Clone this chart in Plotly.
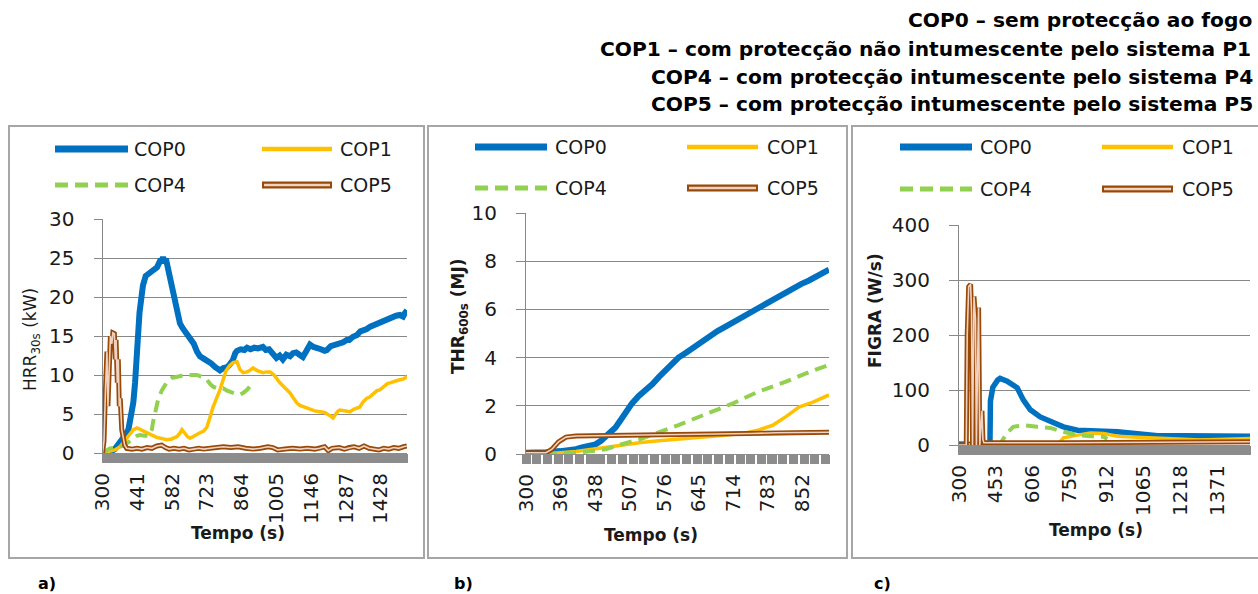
import plotly.graph_objects as go

W, H = 1258, 594


def fx(x):
    return x / W


def fy(y):
    return 1 - y / H


C0 = "#0070C0"
C1 = "#FFC000"
C4 = "#92D050"
C5 = "#984807"
C5_IN = "#F0D2C0"
GRID = "#888888"
BAND = "#8C8C8C"
FRAME = "#A6A6A6"
TXT = "#1A1A1A"

# ---------------- a) HRR30s (kW) ----------------
hrr_t_cop0 = [300, 330, 350, 371, 390, 405, 415, 425, 432, 438, 444, 450, 456, 464, 475, 492, 505, 521,
              533, 540, 545, 550, 557, 565, 574, 585, 594, 604, 614, 625, 640, 655, 670, 683, 695, 710,
              723, 740, 757, 776, 790, 805, 817, 828, 838, 845, 860, 875, 886, 900, 915, 930, 950, 962,
              975, 991, 1005, 1018, 1031, 1045, 1060, 1072, 1085, 1098, 1112, 1125, 1135, 1141, 1155,
              1170, 1185, 1200, 1209, 1225, 1240, 1262, 1275, 1290, 1300, 1315, 1330, 1345, 1360, 1371,
              1385, 1400, 1412, 1424, 1440, 1455, 1465, 1477, 1490, 1505, 1518, 1525, 1534]
hrr_cop0 = [0.1, 0.1, 0.5, 1.3, 2.2, 3.0, 4.5, 6.5, 9.0, 13.0, 16.0, 18.0, 19.5, 21.5, 22.7, 23.2, 23.5, 23.8,
            24.6, 24.6, 25.1, 24.6, 24.9, 23.8, 22.5, 20.6, 19.2, 17.6, 16.6, 16.0, 15.3, 14.8, 14.0, 13.0,
            12.4, 12.1, 11.9, 11.5, 11.0, 10.6, 10.9, 11.0, 11.4, 11.9, 12.8, 13.1, 13.3, 13.2, 13.5, 13.3,
            13.5, 13.4, 13.6, 13.2, 13.3, 12.8, 12.2, 12.5, 12.0, 12.6, 12.4, 12.8, 12.9, 12.6, 12.3, 13.0,
            13.6, 13.9, 13.6, 13.5, 13.3, 13.1, 13.2, 13.7, 13.8, 14.0, 14.2, 14.5, 14.5, 14.9, 15.1, 15.6,
            15.7, 15.9, 16.2, 16.4, 16.6, 16.8, 17.0, 17.2, 17.4, 17.4, 17.6, 17.7, 17.5, 17.9, 18.3]

hrr_t_cop1 = [300, 330, 350, 371, 390, 411, 425, 440, 455, 470, 480, 500, 520, 540, 561, 580, 602, 615, 622,
              632, 645, 655, 670, 685, 695, 710, 723, 735, 748, 762, 776, 790, 800, 815, 829, 845, 851, 857,
              870, 886, 898, 910, 925, 940, 950, 965, 979, 995, 1008, 1019, 1035, 1050, 1060, 1075, 1088,
              1100, 1115, 1129, 1145, 1160, 1181, 1200, 1215, 1222, 1234, 1245, 1255, 1262, 1275, 1290,
              1303, 1318, 1330, 1343, 1355, 1370, 1384, 1400, 1412, 1424, 1440, 1455, 1465, 1480, 1495,
              1505, 1520, 1534]
hrr_cop1 = [0.0, 0.2, 0.4, 0.8, 1.6, 2.5, 3.0, 3.2, 3.0, 2.8, 2.6, 2.3, 2.0, 1.8, 1.7, 1.8, 2.1, 2.6, 3.0,
            2.6, 2.1, 1.9, 2.2, 2.4, 2.6, 2.8, 3.3, 4.5, 5.9, 7.0, 8.1, 9.5, 10.5, 11.2, 11.6, 11.7, 11.3,
            10.7, 10.3, 10.4, 10.6, 10.9, 10.6, 10.4, 10.3, 10.4, 10.4, 10.0, 9.4, 9.0, 8.5, 8.1, 7.7, 7.0,
            6.4, 6.1, 5.9, 5.8, 5.6, 5.4, 5.3, 5.2, 4.9, 4.8, 4.5, 5.0, 5.4, 5.5, 5.4, 5.3, 5.3, 5.6, 5.8,
            5.9, 6.5, 7.0, 7.2, 7.7, 8.0, 8.1, 8.5, 8.9, 9.0, 9.2, 9.3, 9.4, 9.5, 9.8]

hrr_t_cop4 = [300, 315, 330, 355, 383, 405, 424, 440, 452, 470, 492, 500, 505, 515, 525, 540, 561, 580, 602,
              620, 643, 660, 683, 700, 723, 735, 748, 765, 789, 805, 829, 845, 857, 870, 886, 895, 906]
hrr_cop4 = [0.0, 0.3, 0.6, 0.7, 0.9, 1.4, 1.9, 2.2, 2.3, 2.2, 2.3, 3.0, 4.0, 5.4, 6.8, 8.0, 9.1, 9.6, 9.8,
            9.9, 10.0, 10.0, 10.0, 9.8, 9.4, 8.9, 8.5, 8.3, 8.3, 8.0, 7.7, 7.5, 7.5, 7.7, 8.1, 8.5, 8.9]

hrr_t_cop5 = [300, 306, 312, 318, 322, 327, 332, 338, 342, 348, 352, 355, 360, 364, 368, 372, 378, 384, 390,
              398, 420, 440, 460, 480, 500, 520, 540, 555, 570, 590, 610, 630, 650, 670, 690, 710, 730,
              760, 790, 820, 850, 880, 910, 940, 970, 990, 1010, 1040, 1070, 1100, 1130, 1160, 1180, 1200,
              1215, 1230, 1260, 1280, 1300, 1320, 1340, 1360, 1380, 1400, 1420, 1440, 1460, 1480, 1500,
              1520, 1534]
hrr_cop5 = [0.0, 1.5, 8.0, 13.0, 6.0, 12.0, 15.0, 14.0, 15.4, 15.3, 12.0, 14.5, 9.0, 12.0, 6.0, 7.0, 3.0,
            2.0, 1.0, 0.6, 0.5, 0.6, 0.5, 0.7, 0.6, 0.9, 1.0, 0.7, 0.5, 0.6, 0.5, 0.6, 0.4, 0.5, 0.6, 0.5,
            0.6, 0.7, 0.8, 0.7, 0.8, 0.6, 0.5, 0.6, 0.8, 0.7, 0.4, 0.5, 0.6, 0.5, 0.6, 0.5, 0.6, 0.8, 0.3,
            0.6, 0.7, 0.5, 0.7, 0.8, 0.6, 0.9, 0.6, 0.5, 0.4, 0.6, 0.5, 0.7, 0.6, 0.8, 0.9]

# ---------------- b) THR600s (MJ) ----------------
thr_t_cop0 = [300, 320, 340, 369, 384, 400, 412, 425, 439, 450, 459, 469, 479, 489, 499, 512, 525, 540, 553,
              566, 579, 592, 605, 620, 633, 650, 665, 683, 700, 717, 734, 750, 766, 783, 800, 817, 834, 850,
              866, 886, 906]
thr_cop0 = [0.05, 0.05, 0.07, 0.12, 0.15, 0.2, 0.27, 0.33, 0.4, 0.55, 0.7, 0.9, 1.1, 1.4, 1.75, 2.1, 2.4,
            2.65, 2.9, 3.2, 3.45, 3.75, 4.0, 4.2, 4.4, 4.65, 4.9, 5.1, 5.3, 5.5, 5.7, 5.9, 6.1, 6.3, 6.5,
            6.7, 6.85, 7.05, 7.2, 7.4, 7.65]

thr_t_cop1 = [300, 350, 400, 432, 470, 499, 530, 565, 600, 633, 680, 734, 766, 794, 820, 846, 874, 906]
thr_cop1 = [0.0, 0.02, 0.1, 0.2, 0.3, 0.4, 0.48, 0.55, 0.62, 0.68, 0.75, 0.85, 1.0, 1.2, 1.55, 1.95, 2.15,
            2.45]

thr_t_cop4 = [300, 380, 400, 432, 459, 499, 533, 565, 605, 665, 714, 766, 820, 866, 906]
thr_cop4 = [0.0, 0.02, 0.05, 0.12, 0.2, 0.45, 0.65, 0.9, 1.2, 1.7, 2.1, 2.6, 3.0, 3.4, 3.7]

thr_t_cop5 = [300, 340, 352, 365, 380, 400, 500, 600, 700, 750, 800, 850, 906]
thr_cop5 = [0.05, 0.05, 0.2, 0.5, 0.7, 0.75, 0.78, 0.8, 0.82, 0.85, 0.88, 0.9, 0.9]

# ---------------- c) FIGRA (W/s) ----------------
fig_t_cop0 = [300, 425, 428, 430, 440, 460, 470, 499, 520, 541, 566, 595, 636, 678, 732, 790, 873, 900, 956,
              1039, 1122, 1230, 1371, 1504]
fig_cop0 = [2, 2, 0, 80, 105, 118, 121, 116, 110, 104, 82, 64, 51, 42, 33, 27, 27, 25, 24, 20, 17, 17, 17,
            16]

fig_t_cop1 = [300, 700, 719, 732, 790, 844, 898, 956, 1039, 1163, 1300, 1437, 1504]
fig_cop1 = [0, 0, 6, 13, 18, 22, 21, 16, 14, 11, 9, 11, 12]

fig_t_cop4 = [300, 460, 470, 485, 499, 524, 566, 624, 678, 732, 790, 844, 898, 914]
fig_cop4 = [0, 0, 2, 12, 22, 33, 36, 33, 31, 24, 18, 16, 15, 11]

fig_t_cop5 = [300, 330, 334, 340, 348, 352, 356, 362, 368, 372, 376, 381, 386, 391, 395, 399, 403, 730, 1504]
fig_cop5 = [0, 0, 200, 288, 292, 240, 0, 270, 230, 0, 120, 250, 0, 30, 62, 10, 4, 4, 6]

# tick labels of the category axes
ticks_a = [300, 441, 582, 723, 864, 1005, 1146, 1287, 1428]
ticks_b = [300, 369, 438, 507, 576, 645, 714, 783, 852]
ticks_c = [300, 453, 606, 759, 912, 1065, 1218, 1371]

header_lines = [
    "COP0 – sem protecção ao fogo",
    "COP1 – com protecção não intumescente pelo sistema P1",
    "COP4 – com protecção intumescente pelo sistema P4",
    "COP5 – com protecção intumescente pelo sistema P5",
]

FONT = "DejaVu Sans"

fig = go.Figure()


def add_series(ax, t0, v0, t1, v1, t4, v4, t5, v5, w0=6):
    xa, ya = ("x", "y") if ax == 1 else (f"x{ax}", f"y{ax}")
    common = dict(mode="lines", xaxis=xa, yaxis=ya, showlegend=False, hoverinfo="skip")
    fig.add_trace(go.Scatter(x=t0, y=v0, line=dict(color=C0, width=w0), **common))
    fig.add_trace(go.Scatter(x=t1, y=v1, line=dict(color=C1, width=3.5), **common))
    fig.add_trace(go.Scatter(x=t4, y=v4, line=dict(color=C4, width=4, dash="12px,7px"), **common))
    fig.add_trace(go.Scatter(x=t5, y=v5, line=dict(color=C5, width=5), **common))
    fig.add_trace(go.Scatter(x=t5, y=v5, line=dict(color=C5_IN, width=1.6), **common))


add_series(1, hrr_t_cop0, hrr_cop0, hrr_t_cop1, hrr_cop1, hrr_t_cop4, hrr_cop4, hrr_t_cop5, hrr_cop5)
add_series(2, thr_t_cop0, thr_cop0, thr_t_cop1, thr_cop1, thr_t_cop4, thr_cop4, thr_t_cop5, thr_cop5)
add_series(3, fig_t_cop0, fig_cop0, fig_t_cop1, fig_cop1, fig_t_cop4, fig_cop4, fig_t_cop5, fig_cop5, w0=5.5)


def xaxis_cfg(px0, px1, rng, ticks, minor_dtick, minor_w, anchor):
    return dict(
        domain=[fx(px0), fx(px1)], range=rng, anchor=anchor,
        tickmode="array", tickvals=ticks, ticktext=[str(t) for t in ticks],
        tickangle=-90, ticks="outside", ticklen=9, tickcolor=BAND, tickwidth=2,
        minor=dict(ticks="outside", ticklen=9, tickcolor=BAND, tickwidth=minor_w,
                   dtick=minor_dtick, tick0=rng[0], showgrid=False),
        showgrid=False, zeroline=False, showline=True, linecolor=BAND, linewidth=1,
        tickfont=dict(family=FONT, size=20, color=TXT), ticklabelstandoff=2,
    )


def yaxis_cfg(py0, py1, rng, ticks, anchor, ticklen):
    return dict(
        domain=[fy(py0), fy(py1)], range=rng, anchor=anchor,
        tickmode="array", tickvals=ticks, ticktext=[str(t) for t in ticks],
        ticks="outside", ticklen=ticklen, tickcolor=GRID, tickwidth=1,
        showgrid=True, gridcolor=GRID, gridwidth=1, zeroline=False,
        showline=True, linecolor=GRID, linewidth=1,
        tickfont=dict(family=FONT, size=20, color=TXT), ticklabelstandoff=15,
    )


layout = dict(
    width=W, height=H, margin=dict(l=0, r=0, t=0, b=0, autoexpand=False), autosize=False,
    paper_bgcolor="white", plot_bgcolor="white", showlegend=False,
    xaxis=xaxis_cfg(102.5, 407, [300, 1534], ticks_a, 3, 2, "y"),
    yaxis=yaxis_cfg(453, 219, [0, 30], [0, 5, 10, 15, 20, 25, 30], "x", 8),
    xaxis2=xaxis_cfg(526, 829, [300, 906], ticks_b, 21.4, 9, "y2"),
    yaxis2=yaxis_cfg(454, 213, [0, 10], [0, 2, 4, 6, 8, 10], "x2", 9),
    xaxis3=xaxis_cfg(959, 1250, [300, 1504], ticks_c, 3, 2, "y3"),
    yaxis3=yaxis_cfg(445, 225, [0, 400], [0, 100, 200, 300, 400], "x3", 9),
)

shapes = []
annotations = []

# panel frames
for x0, x1 in [(9, 424), (428, 847), (852, 1270)]:
    shapes.append(dict(type="rect", xref="paper", yref="paper", x0=fx(x0), x1=fx(x1), y0=fy(558), y1=fy(126),
                       line=dict(color=FRAME, width=2), fillcolor="rgba(0,0,0,0)", layer="below"))

# legends (2 x 2 per panel)
legend_pos = [
    # (left line x0, x1, text x, right line x0, x1, text x, row1 y, row2 y)
    (55, 128, 132, 262, 332, 338, 149, 185),
    (475, 547, 553, 687, 758, 765, 147, 188),
    (900, 972, 978, 1102, 1173, 1180, 147, 189),
]
for (lx0, lx1, ltx, rx0, rx1, rtx, r1, r2) in legend_pos:
    entries = [
        (lx0, lx1, ltx, r1, "COP0"),
        (rx0, rx1, rtx, r1, "COP1"),
        (lx0, lx1, ltx, r2, "COP4"),
        (rx0, rx1, rtx, r2, "COP5"),
    ]
    for (a, b, tx, yy, name) in entries:
        if name == "COP0":
            shapes.append(dict(type="line", xref="paper", yref="paper", x0=fx(a), x1=fx(b), y0=fy(yy), y1=fy(yy),
                               line=dict(color=C0, width=7)))
        elif name == "COP1":
            shapes.append(dict(type="line", xref="paper", yref="paper", x0=fx(a), x1=fx(b), y0=fy(yy), y1=fy(yy),
                               line=dict(color=C1, width=4.5)))
        elif name == "COP4":
            shapes.append(dict(type="line", xref="paper", yref="paper", x0=fx(a), x1=fx(b), y0=fy(yy), y1=fy(yy),
                               line=dict(color=C4, width=5, dash="13px,7px")))
        else:
            shapes.append(dict(type="line", xref="paper", yref="paper", x0=fx(a), x1=fx(b), y0=fy(yy), y1=fy(yy),
                               line=dict(color=C5, width=7)))
            shapes.append(dict(type="line", xref="paper", yref="paper", x0=fx(a + 2), x1=fx(b - 2), y0=fy(yy),
                               y1=fy(yy), line=dict(color=C5_IN, width=2.5)))
        annotations.append(dict(xref="paper", yref="paper", x=fx(tx), y=fy(yy), text=name, showarrow=False,
                                xanchor="left", yanchor="middle",
                                font=dict(family=FONT, size=19, color=TXT)))

# axis titles
title_font = dict(family=FONT, size=17, color=TXT, weight="bold")
for cx, cy in [(238, 533), (651, 535), (1096, 530)]:
    annotations.append(dict(xref="paper", yref="paper", x=fx(cx), y=fy(cy), text="Tempo (s)", showarrow=False,
                            xanchor="center", yanchor="middle", font=title_font))
annotations.append(dict(xref="paper", yref="paper", x=fx(32), y=fy(340), text="HRR<sub>30s</sub> (kW)",
                        showarrow=False, textangle=-90, xanchor="center", yanchor="middle",
                        font=dict(family=FONT, size=17, color=TXT)))
annotations.append(dict(xref="paper", yref="paper", x=fx(459), y=fy(316), text="THR<sub>600s</sub> (MJ)",
                        showarrow=False, textangle=-90, xanchor="center", yanchor="middle", font=title_font))
annotations.append(dict(xref="paper", yref="paper", x=fx(875), y=fy(311), text="FIGRA (W/s)",
                        showarrow=False, textangle=-90, xanchor="center", yanchor="middle", font=title_font))

# panel letters
for lx, lbl in [(36, "a)"), (452, "b)"), (872, "c)")]:
    annotations.append(dict(xref="paper", yref="paper", x=fx(lx), y=fy(583), text=lbl, showarrow=False,
                            xanchor="left", yanchor="middle",
                            font=dict(family=FONT, size=16, color="black", weight="bold")))

# header lines
for (hx, hy), line in zip([(906, 20), (598, 49), (649, 77), (649, 104)], header_lines):
    annotations.append(dict(xref="paper", yref="paper", x=fx(hx), y=fy(hy), text=line, showarrow=False,
                            xanchor="left", yanchor="middle",
                            font=dict(family=FONT, size=20.2, color="black", weight="bold")))

layout["shapes"] = shapes
layout["annotations"] = annotations
fig.update_layout(**layout)

fig.write_html("out.html")
